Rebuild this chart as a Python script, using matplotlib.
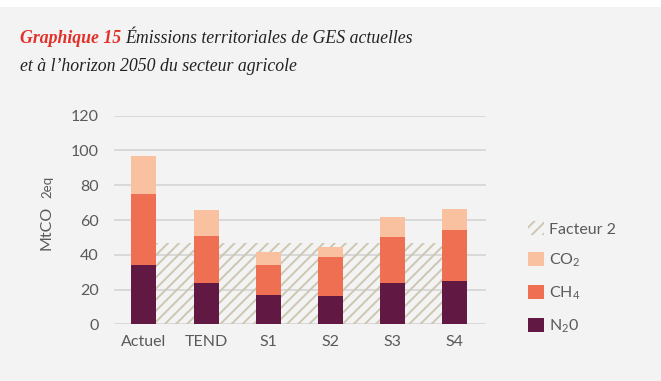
import matplotlib
matplotlib.use("Agg")
import matplotlib.pyplot as plt
import matplotlib.patches as mpatches
import numpy as np

categories = ["Actuel", "TEND", "S1", "S2", "S3", "S4"]
n2o = [34, 24, 17, 16, 23.5, 25]
ch4 = [41, 27, 17, 23, 26.5, 29.5]
co2 = [22, 15, 7.5, 5.5, 11.5, 12]
facteur2 = 47

c_n2o = "#611944"
c_ch4 = "#ef6f52"
c_co2 = "#f9c19f"
c_hatch = "#cdc7b2"
c_grid = "#d2d2d2"
c_text = "#5a5a5a"
bg = "#f3f3f3"

plt.rcParams["font.family"] = ["Lato", "DejaVu Sans"]
plt.rcParams["hatch.linewidth"] = 1.4

fig = plt.figure(figsize=(6.61, 3.81), dpi=100, facecolor=bg)
# white strip along the top edge
fig.patches.append(mpatches.Rectangle((0, 1 - 7 / 381), 1, 7 / 381,
                                      transform=fig.transFigure,
                                      facecolor="white", edgecolor="none", zorder=0))

ax = fig.add_axes([114 / 661, 1 - 324.3 / 381, (486 - 114) / 661, (324.3 - 115.7) / 381])
ax.set_facecolor(bg)

x = np.arange(len(categories))
w = 0.4

# target level drawn behind the bars
ax.fill_between([x[0], x[-1]], 0, facteur2, facecolor="none", edgecolor=c_hatch,
                hatch="///", linewidth=0, zorder=1)

b1 = ax.bar(x, n2o, w, color=c_n2o, zorder=2)
b2 = ax.bar(x, ch4, w, bottom=n2o, color=c_ch4, zorder=2)
b3 = ax.bar(x, co2, w, bottom=np.array(n2o) + np.array(ch4), color=c_co2, zorder=2)

ax.set_ylim(0, 120)
ax.set_xlim(-0.48, 5.5)
ax.set_yticks(range(0, 121, 20))
ax.yaxis.grid(True, color=c_grid, linewidth=1.1, zorder=0)
ax.set_axisbelow(True)
for s in ax.spines.values():
    s.set_visible(False)
ax.tick_params(length=0, labelsize=11.5, labelcolor=c_text)
ax.tick_params(axis="y", pad=11)
ax.tick_params(axis="x", pad=8)
ax.set_xticks(x, categories)

# y-axis unit, "2eq" set smaller on the same baseline
fig.text(51 / 661, 1 - 250 / 381, "MtCO", rotation=90, rotation_mode="anchor",
         ha="left", va="baseline", fontsize=11.5, color=c_text)
fig.text(51 / 661, 1 - 198 / 381, "2eq", rotation=90, rotation_mode="anchor",
         ha="left", va="baseline", fontsize=9.5, color=c_text)

hatch_patch = mpatches.Patch(facecolor="none", edgecolor=c_hatch, hatch="///", linewidth=0)
leg = ax.legend([hatch_patch, b3, b2, b1],
                ["Facteur 2", "CO$_{\\mathregular{2}}$", "CH$_{\\mathregular{4}}$", "N$_{\\mathregular{2}}$0"],
                loc="upper left", bbox_to_anchor=(520 / 661, 1 - 213 / 381),
                bbox_transform=fig.transFigure, frameon=False, fontsize=11.5,
                handlelength=1.0, handleheight=1.0, handletextpad=0.3,
                labelspacing=0.95, borderpad=0, labelcolor=c_text)

# two-colour title
renderer = fig.canvas.get_renderer()
tsize = 12.8
t1 = fig.text(20 / 661, 1 - 43 / 381, "Graphique 15", fontsize=tsize, color="#e3312a",
              family="Liberation Serif", style="italic", weight="bold", va="baseline")
bb = t1.get_window_extent(renderer)
fig.text(bb.x1 / 661 + 4 / 661, 1 - 43 / 381, "Émissions territoriales de GES actuelles",
         fontsize=tsize, color="#222222", family="Liberation Serif", style="italic",
         va="baseline")
fig.text(20 / 661, 1 - 71 / 381, "et à l’horizon 2050 du secteur agricole",
         fontsize=tsize, color="#222222", family="Liberation Serif", style="italic",
         va="baseline")

fig.savefig("out.png", dpi=100, facecolor=bg)
